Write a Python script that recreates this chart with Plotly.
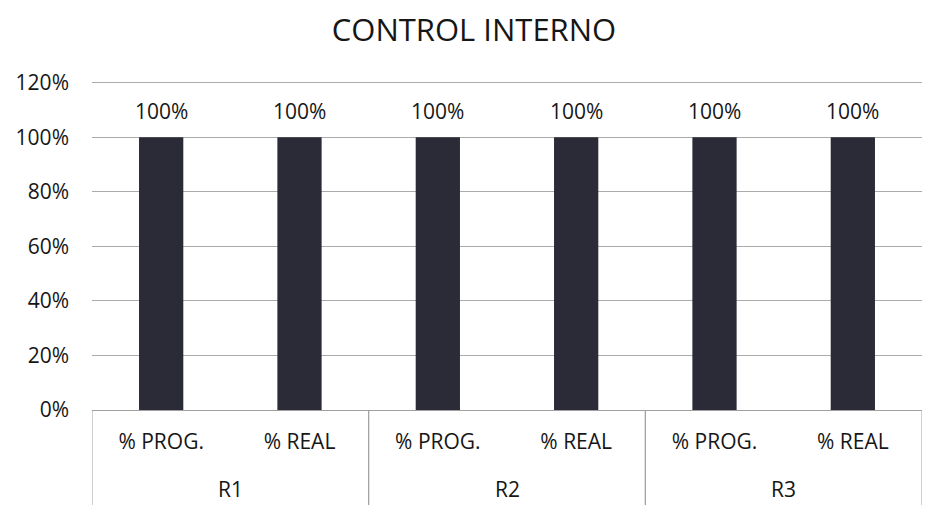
import plotly.graph_objects as go

groups = ["R1", "R1", "R2", "R2", "R3", "R3"]
measures = ["% PROG.", "% REAL", "% PROG.", "% REAL", "% PROG.", "% REAL"]
values = [100, 100, 100, 100, 100, 100]
y_ticks = [0, 20, 40, 60, 80, 100, 120]
y_tick_labels = ["0%", "20%", "40%", "60%", "80%", "100%", "120%"]

FONT = "Open Sans, sans-serif"
INK = "#161616"
LINE = "#a0a0a0"

idx = list(range(len(values)))

fig = go.Figure(go.Bar(
    x=idx,
    y=values,
    marker=dict(color="#2b2b37", line=dict(width=0)),
    width=0.32,
    hovertext=[f"{g} {m}" for g, m in zip(groups, measures)],
))

# value labels above each bar
for i, v in zip(idx, values):
    fig.add_annotation(x=i, y=v, xref="x", yref="y", text=f"{v}%", showarrow=False,
                       yshift=26, yanchor="middle",
                       font=dict(size=21, color=INK, family=FONT))

# group labels and dividers of the two-level category axis
group_names = list(dict.fromkeys(groups))
box_bottom = -0.288
for g in group_names:
    members = [i for i, gg in zip(idx, groups) if gg == g]
    center = sum(members) / len(members)
    fig.add_annotation(x=center, y=-0.24, xref="x", yref="paper", text=g, showarrow=False,
                       yanchor="middle", font=dict(size=21, color=INK, family=FONT))
    for edge in (members[0] - 0.5, members[-1] + 0.5):
        fig.add_shape(type="line", xref="x", yref="paper", x0=edge, x1=edge,
                      y0=0, y1=box_bottom, line=dict(color=LINE, width=1))

fig.update_layout(
    width=932, height=506,
    margin=dict(l=84, r=18, t=72, b=104, autoexpand=False),
    paper_bgcolor="white", plot_bgcolor="white",
    title=dict(text="CONTROL INTERNO", x=0.5, xanchor="center",
               y=0.957, yanchor="middle",
               font=dict(size=31, color=INK, family=FONT)),
    showlegend=False,
    font=dict(family=FONT, color=INK),
)
fig.update_yaxes(range=[0, 121], tickvals=y_ticks, ticktext=y_tick_labels,
                 showgrid=True, gridcolor="#ababab", gridwidth=1,
                 zeroline=False, showline=False, automargin=False,
                 tickfont=dict(size=21, family=FONT, color=INK),
                 ticks="", ticklabelstandoff=22)
fig.update_xaxes(range=[-0.5, len(values) - 0.5], tickvals=idx, ticktext=measures,
                 showline=True, linecolor=LINE, linewidth=1,
                 tickfont=dict(size=21, family=FONT, color=INK), automargin=False,
                 ticks="", showgrid=False, zeroline=False, ticklabelstandoff=13)

fig.write_html("out.html")
